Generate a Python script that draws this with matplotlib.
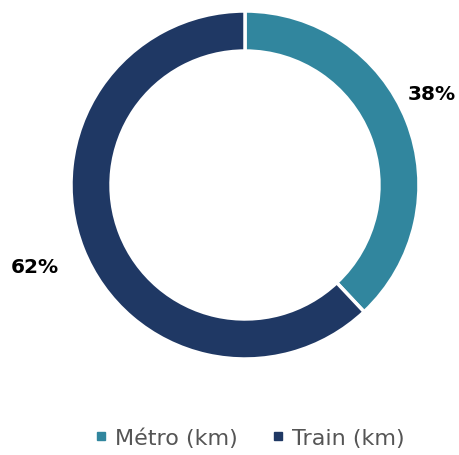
import matplotlib
matplotlib.use("Agg")
import matplotlib.pyplot as plt
from matplotlib.lines import Line2D

categories = ["Métro (km)", "Train (km)"]
values = [38, 62]
labels = ["38%", "62%"]
colors = ["#31869E", "#1F3864"]

plt.rcParams['font.family'] = ['DejaVu Sans']

fig = plt.figure(figsize=(4.59, 4.56), dpi=100)
ax = fig.add_axes([71/459, 96/456, 348/459, 348/456])
wedges, _ = ax.pie(values, colors=colors, startangle=90, counterclock=False,
                   radius=1, wedgeprops=dict(width=0.23, edgecolor='white', linewidth=2.5))
ax.set_xlim(-1, 1)
ax.set_ylim(-1, 1)
ax.set_aspect('equal')
ax.axis('off')

ax.text(1.075, 0.523, labels[0], fontsize=14.5, fontweight='bold', ha='center', va='center', color='black')
ax.text(-1.207, -0.471, labels[1], fontsize=14.5, fontweight='bold', ha='center', va='center', color='black')

handles = [Line2D([0], [0], marker='s', linestyle='', markersize=5.5, markerfacecolor=c, markeredgecolor=c) for c in colors]
fig.legend(handles, categories, loc='center', bbox_to_anchor=(250/459, 1 - 439/456), ncol=2,
           frameon=False, fontsize=16, handletextpad=0.35, columnspacing=1.6, handlelength=0.5,
           labelcolor='#555555')

fig.savefig("out.png", dpi=100)
